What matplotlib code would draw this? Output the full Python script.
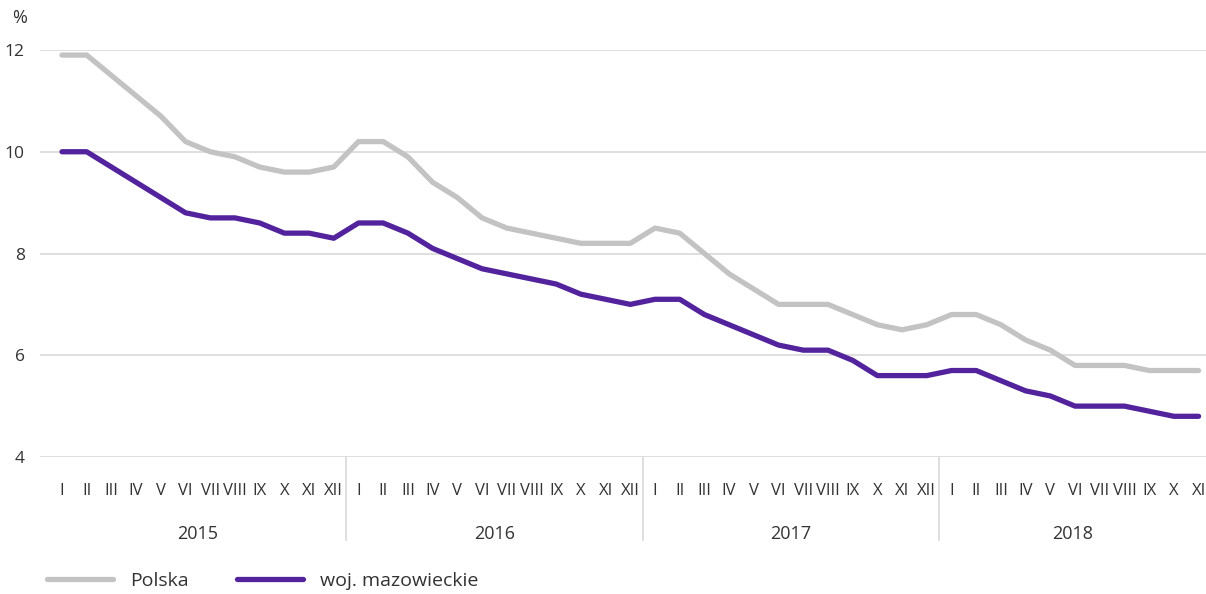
import numpy as np
import matplotlib
matplotlib.use('Agg')
import matplotlib.pyplot as plt

plt.rcParams['font.family'] = ['Open Sans', 'DejaVu Sans']

years = ['2015', '2016', '2017', '2018']
months = ['I', 'II', 'III', 'IV', 'V', 'VI', 'VII', 'VIII', 'IX', 'X', 'XI', 'XII']

# stopa bezrobocia, %
polska = [11.9, 11.9, 11.5, 11.1, 10.7, 10.2, 10.0, 9.9, 9.7, 9.6, 9.6, 9.7,
          10.2, 10.2, 9.9, 9.4, 9.1, 8.7, 8.5, 8.4, 8.3, 8.2, 8.2, 8.2,
          8.5, 8.4, 8.0, 7.6, 7.3, 7.0, 7.0, 7.0, 6.8, 6.6, 6.5, 6.6,
          6.8, 6.8, 6.6, 6.3, 6.1, 5.8, 5.8, 5.8, 5.7, 5.7, 5.7]
mazowieckie = [10.0, 10.0, 9.7, 9.4, 9.1, 8.8, 8.7, 8.7, 8.6, 8.4, 8.4, 8.3,
               8.6, 8.6, 8.4, 8.1, 7.9, 7.7, 7.6, 7.5, 7.4, 7.2, 7.1, 7.0,
               7.1, 7.1, 6.8, 6.6, 6.4, 6.2, 6.1, 6.1, 5.9, 5.6, 5.6, 5.6,
               5.7, 5.7, 5.5, 5.3, 5.2, 5.0, 5.0, 5.0, 4.9, 4.8, 4.8]

n = len(polska)
labels = (months * len(years))[:n]
x = np.arange(n)

txt = '#333333'
fig = plt.figure(figsize=(12.06, 5.94), dpi=100)
ax = fig.add_axes([40/1206, 1 - 457/594, 1 - 40/1206, 407/594])

ax.plot(x, polska, color='#c3c3c3', lw=3.8, solid_capstyle='round',
        clip_on=False, label='Polska', zorder=3)
ax.plot(x, mazowieckie, color='#52239c', lw=3.8, solid_capstyle='round',
        clip_on=False, label='woj. mazowieckie', zorder=4)

ax.set_ylim(4, 12)
ax.set_xlim(-0.89, 46.3)
ax.set_yticks([4, 6, 8, 10, 12])
ax.yaxis.grid(True, color='#dcdcdc', lw=1.3)
ax.set_axisbelow(True)
for s in ax.spines.values():
    s.set_visible(False)
ax.tick_params(axis='y', length=0, pad=11, labelsize=12.5, labelcolor=txt)
ax.set_xticks(x)
ax.set_xticklabels(labels)
ax.tick_params(axis='x', length=0, pad=19, labelsize=12, labelcolor=txt)

# separatory lat i podpisy
for i in range(1, len(years)):
    xs = i * 12 - 0.5
    ax.plot([xs, xs], [0, -0.205], transform=ax.get_xaxis_transform(),
            color='#dcdcdc', lw=1.3, clip_on=False)
for i, yr in enumerate(years):
    end = min(i * 12 + 11, n - 1)
    xc = (i * 12 + end) / 2 if i < len(years) - 1 else (i * 12 - 0.5 + 46.3) / 2
    ax.text(xc, -0.19, yr, transform=ax.get_xaxis_transform(),
            ha='center', va='center', fontsize=13, color=txt)

fig.text(12/1206, 1 - 18/594, '%', fontsize=13, color=txt, va='center')

fig.legend(loc='center left', bbox_to_anchor=(47/1206, 1 - 581/594), ncol=2,
           frameon=False, fontsize=14, handlelength=3.4, columnspacing=2.5,
           handletextpad=0.85, borderpad=0, borderaxespad=0, labelcolor=txt)

fig.savefig('out.png', dpi=100)
